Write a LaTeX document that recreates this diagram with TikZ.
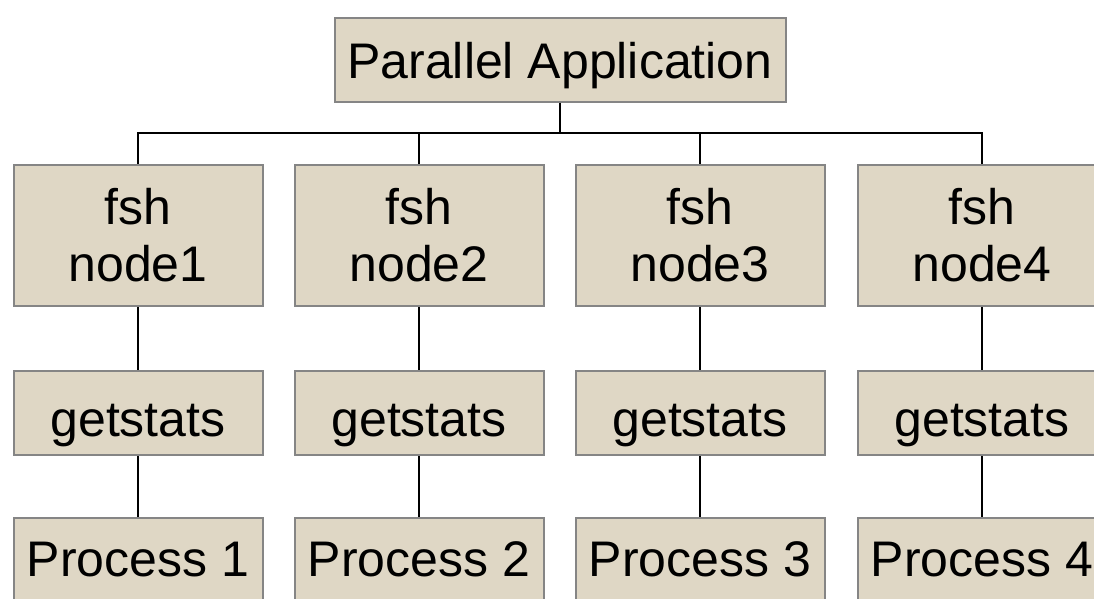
\documentclass[tikz,border=0pt]{standalone}
\usepackage{fontspec}
\setmainfont{Liberation Sans}
\definecolor{boxfill}{HTML}{DFD7C5}
\definecolor{boxline}{HTML}{858585}

\begin{document}
\begin{tikzpicture}[x=1pt, y=-1pt, line width=2pt, every node/.style={font=\fontsize{50}{57}\selectfont}]
    \tikzset{
        tbox/.style={draw=boxline, fill=boxfill, line width=2pt, minimum width=249pt, align=center, inner sep=0pt},
        onerow/.style={tbox, minimum height=84pt, text depth=0pt, text height=#1},
        link/.style={draw=black, line width=2pt}
    }
    \useasboundingbox (0,0) rectangle (1094,598);
    \clip (0,0) rectangle (1094,598);

    \node[onerow=37pt, minimum width=451pt] (app) at (560,59.5) {Parallel Application};
    \coordinate (bus) at (560,133);

    \foreach \i/\x in {1/138, 2/419, 3/700, 4/982} {
        \node[tbox, minimum height=141pt] (fsh\i) at (\x,235.5) {fsh\\node\i};
        \node[onerow=46pt] (stats\i) at (\x,413) {getstats};
        \node[onerow=32pt] (proc\i) at (\x,560) {Process \i};
        \draw[link] (bus) -| (fsh\i.north);
        \draw[link] (fsh\i) -- (stats\i);
        \draw[link] (stats\i) -- (proc\i);
    }
    \draw[link] (app) -- (bus);
\end{tikzpicture}
\end{document}
